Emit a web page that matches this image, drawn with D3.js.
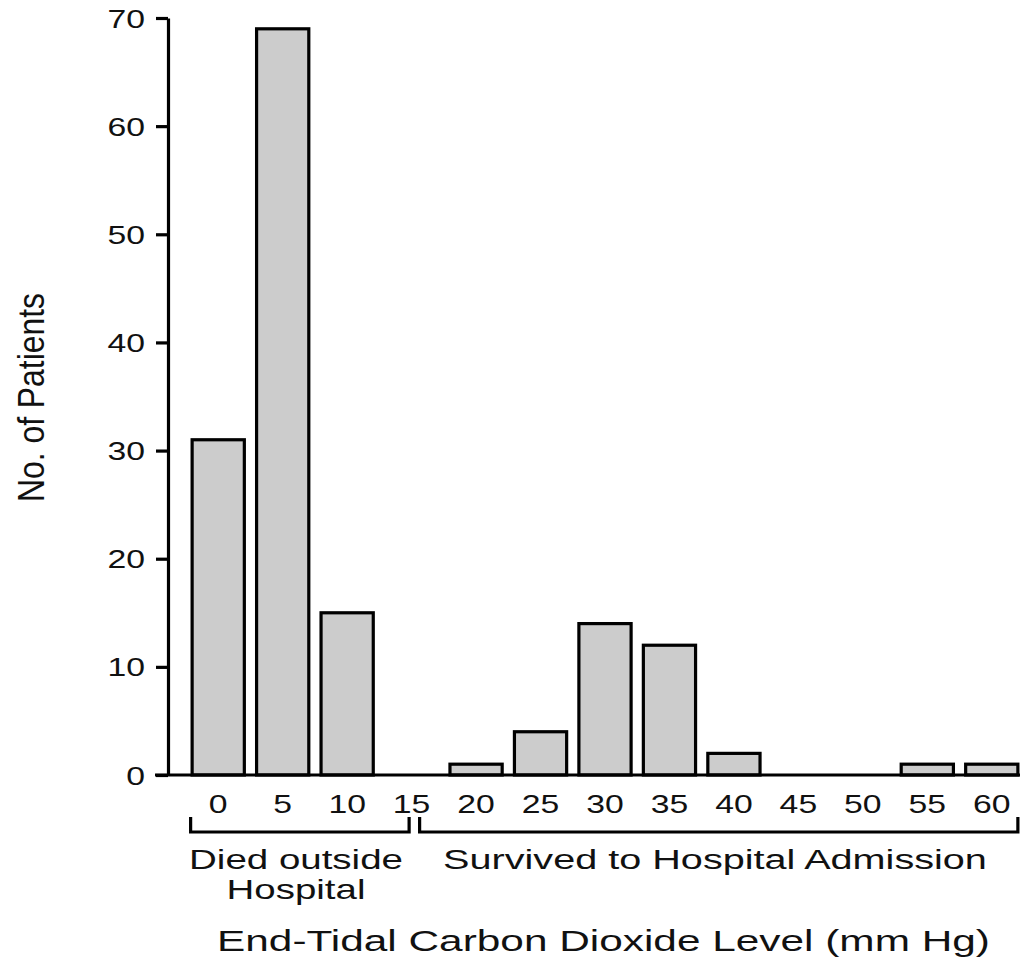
<!DOCTYPE html>
<html>
<head>
<meta charset="utf-8">
<script src="https://cdn.jsdelivr.net/npm/d3@7"></script>
<style>
  html, body { margin: 0; padding: 0; background: #fff; }
  svg { display: block; }
  text { font-family: "Liberation Sans", Arial, Helvetica, sans-serif; fill: #111; }
</style>
</head>
<body>
<svg id="chart" width="1020" height="958"></svg>
<script>
// End-tidal CO2 level bins (mm Hg) and number of patients in each bin
const levels = ["0", "5", "10", "15", "20", "25", "30", "35", "40", "45", "50", "55", "60"];
const patients = [31, 69, 15, 0, 1, 4, 14, 12, 2, 0, 0, 1, 1];
const yTicks = [0, 10, 20, 30, 40, 50, 60, 70];

// Outcome groups, spanning ranges of bins
const groups = [
  { from: "0", to: "15", lines: ["Died outside", "Hospital"] },
  { from: "15", to: "60", lines: ["Survived to Hospital Admission"] }
];

const xTitle = "End-Tidal Carbon Dioxide Level (mm Hg)";
const yTitle = "No. of Patients";

const svg = d3.select("#chart");

const x = d3.scaleBand()
  .domain(levels)
  .range([186, 1024])
  .paddingInner(0.19)
  .paddingOuter(0.095);

const y = d3.scaleLinear()
  .domain([0, 70])
  .range([775, 18]);

const axisX = 168;
const wide = 1.35; // horizontally extended lettering

// Bars
svg.append("g")
  .selectAll("rect")
  .data(levels.map((l, i) => ({ level: l, n: patients[i] })).filter(d => d.n > 0))
  .join("rect")
  .attr("x", d => x(d.level))
  .attr("width", x.bandwidth())
  .attr("y", d => y(d.n))
  .attr("height", d => y(0) - y(d.n))
  .attr("fill", "#cccccc")
  .attr("stroke", "#000")
  .attr("stroke-width", 3.2);

// Y axis
const gy = svg.append("g")
  .attr("transform", `translate(${axisX},0)`)
  .call(d3.axisLeft(y).tickValues(yTicks).tickSize(12).tickSizeOuter(0).tickPadding(11));
gy.select(".domain").attr("stroke", "#000").attr("stroke-width", 3.2);
gy.selectAll(".tick line").attr("stroke", "#000").attr("stroke-width", 3.2);
gy.selectAll(".tick text")
  .attr("font-size", 25)
  .attr("font-family", null)
  .attr("x", -23 / wide)
  .attr("dy", "0.36em")
  .attr("transform", `scale(${wide},1)`);

// Baseline
svg.append("line")
  .attr("x1", 155).attr("x2", 1020)
  .attr("y1", y(0)).attr("y2", y(0))
  .attr("stroke", "#000").attr("stroke-width", 3.2);

// X category labels
const gx = svg.append("g")
  .attr("transform", `translate(0,${y(0)})`)
  .call(d3.axisBottom(x).tickSize(0).tickPadding(0));
gx.select(".domain").remove();
gx.selectAll(".tick text")
  .attr("font-size", 25)
  .attr("font-family", null)
  .attr("y", 38)
  .attr("dy", 0)
  .attr("transform", `scale(${wide},1)`);

// Group brackets
const bracketTop = 817, bracketY = 832;
const spanX = g => {
  const left = g.from === "0" ? x(g.from) - 1.5 : x(g.from) + x.bandwidth() / 2 + 8;
  const right = g.to === "60" ? x(g.to) + x.bandwidth() : x(g.to) + x.bandwidth() / 2 - 2.5;
  return [left, right];
};
const gb = svg.append("g");
groups.forEach(g => {
  const [l, r] = spanX(g);
  gb.append("path")
    .attr("d", `M${l},${bracketTop}V${bracketY}H${r}V${bracketTop}`)
    .attr("fill", "none")
    .attr("stroke", "#000")
    .attr("stroke-width", 3.2);
});

// Helper: text stretched to a given width, centred on cx
function fitText(parent, str, cx, baseline, size, width, rotate) {
  const g = parent.append("g");
  const t = g.append("text")
    .attr("font-size", size)
    .attr("text-anchor", "middle")
    .text(str);
  const natural = t.node().getComputedTextLength();
  const sx = width / natural;
  if (rotate) {
    g.attr("transform", `translate(${cx},${baseline}) rotate(-90) scale(${sx},1)`);
  } else {
    g.attr("transform", `translate(${cx},${baseline}) scale(${sx},1)`);
  }
  return g;
}

// Group captions
fitText(svg, groups[0].lines[0], 296, 869, 27, 214);
fitText(svg, groups[0].lines[1], 296, 899, 27, 139);
fitText(svg, groups[1].lines[0], 715, 869, 27, 544);

// Axis titles
fitText(svg, xTitle, 603.5, 951, 29, 773);
fitText(svg, yTitle, 44, 397.5, 37, 209, true);
</script>
</body>
</html>
